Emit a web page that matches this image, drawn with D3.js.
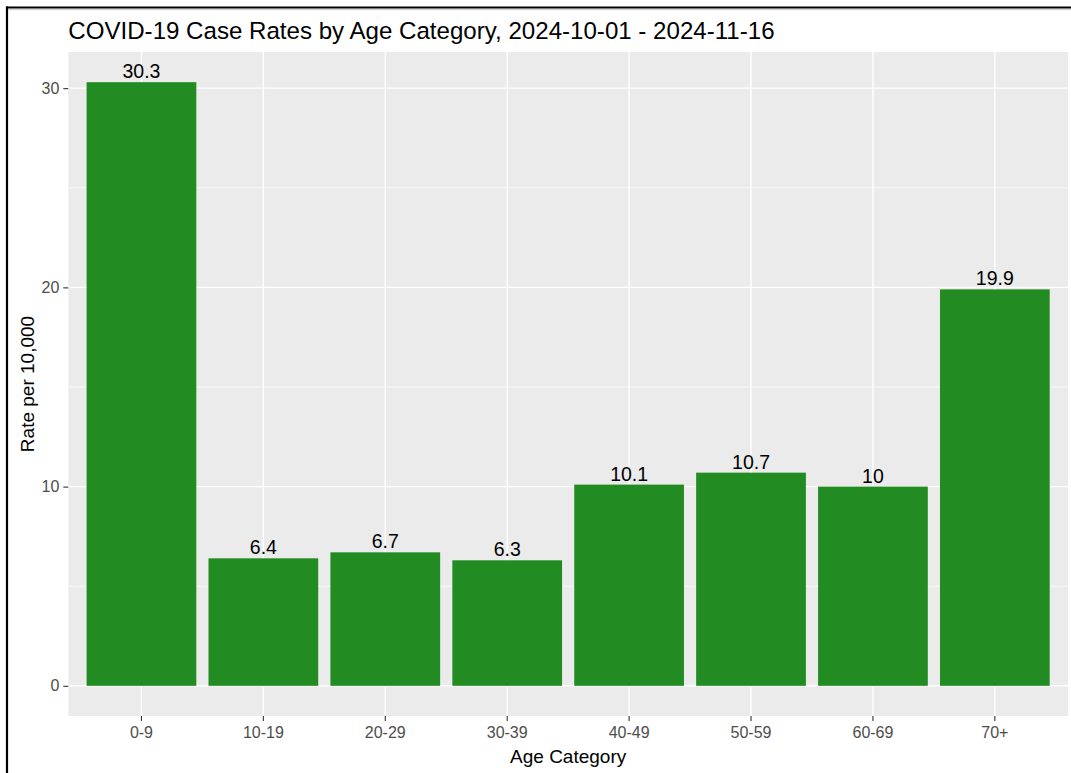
<!DOCTYPE html>
<html>
<head>
<meta charset="utf-8">
<script src="https://cdn.jsdelivr.net/npm/d3@7"></script>
<style>
  html, body { margin: 0; padding: 0; background: #fff; }
  svg { display: block; }
  text { font-family: "Liberation Sans", Arial, sans-serif; }
</style>
</head>
<body>
<svg id="chart" width="1071" height="773"></svg>
<script>
const categories = ["0-9", "10-19", "20-29", "30-39", "40-49", "50-59", "60-69", "70+"];
const rates = [30.3, 6.4, 6.7, 6.3, 10.1, 10.7, 10, 19.9];
const rateLabels = ["30.3", "6.4", "6.7", "6.3", "10.1", "10.7", "10", "19.9"];
const yTicks = [0, 10, 20, 30];
const yMinor = [5, 15, 25];
const titleText = "COVID-19 Case Rates by Age Category, 2024-10-01 - 2024-11-16";
const xTitle = "Age Category";
const yTitle = "Rate per 10,000";

const svg = d3.select("#chart");
const W = 1071, H = 773;
const panel = { left: 68.3, right: 1068, top: 52, bottom: 716 };

svg.append("rect").attr("x", 0).attr("y", 0).attr("width", W).attr("height", H).attr("fill", "#fff");

const maxV = d3.max(rates);
const y = d3.scaleLinear()
  .domain([-0.05 * maxV, maxV * 1.05])
  .range([panel.bottom, panel.top]);

const n = categories.length;
const step = (panel.right - panel.left) / (n - 1 + 1.2);
const x = d3.scaleBand()
  .domain(categories)
  .range([panel.left + 0.1 * step, panel.right - 0.1 * step])
  .paddingInner(0.1)
  .paddingOuter(0.05);

svg.append("rect")
  .attr("x", panel.left).attr("y", panel.top)
  .attr("width", panel.right - panel.left).attr("height", panel.bottom - panel.top)
  .attr("fill", "#EBEBEB");

svg.append("g").selectAll("line").data(yMinor).join("line")
  .attr("x1", panel.left).attr("x2", panel.right)
  .attr("y1", d => y(d)).attr("y2", d => y(d))
  .attr("stroke", "#fff").attr("stroke-width", 0.7);

svg.append("g").selectAll("line").data(yTicks).join("line")
  .attr("x1", panel.left).attr("x2", panel.right)
  .attr("y1", d => y(d)).attr("y2", d => y(d))
  .attr("stroke", "#fff").attr("stroke-width", 1.4);
svg.append("g").selectAll("line").data(categories).join("line")
  .attr("x1", d => x(d) + x.bandwidth() / 2).attr("x2", d => x(d) + x.bandwidth() / 2)
  .attr("y1", panel.top).attr("y2", panel.bottom)
  .attr("stroke", "#fff").attr("stroke-width", 1.4);

svg.append("g").selectAll("rect").data(rates).join("rect")
  .attr("x", (d, i) => x(categories[i]))
  .attr("width", x.bandwidth())
  .attr("y", d => y(d))
  .attr("height", d => y(0) - y(d))
  .attr("fill", "#228B22");

svg.append("g").selectAll("text").data(rates).join("text")
  .attr("x", (d, i) => x(categories[i]) + x.bandwidth() / 2)
  .attr("y", d => y(d) - 4)
  .attr("text-anchor", "middle")
  .attr("font-size", 19.5)
  .attr("fill", "#000")
  .text((d, i) => rateLabels[i]);

const yAxis = d3.axisLeft(y).tickValues(yTicks).tickSize(5).tickPadding(4).tickFormat(d3.format("d"));
const gy = svg.append("g").attr("transform", `translate(${panel.left},0)`).call(yAxis);
gy.select(".domain").remove();
gy.selectAll(".tick line").attr("stroke", "#333").attr("stroke-width", 1.1);
gy.selectAll(".tick text").attr("fill", "#4D4D4D").attr("font-size", 16)
  .attr("font-family", "Liberation Sans, Arial, sans-serif");

const xAxis = d3.axisBottom(x).tickSize(5).tickPadding(6);
const gx = svg.append("g").attr("transform", `translate(0,${panel.bottom})`).call(xAxis);
gx.select(".domain").remove();
gx.selectAll(".tick line").attr("stroke", "#333").attr("stroke-width", 1.1);
gx.selectAll(".tick text").attr("fill", "#4D4D4D").attr("font-size", 16)
  .attr("font-family", "Liberation Sans, Arial, sans-serif");

svg.append("text")
  .attr("x", panel.left).attr("y", 38.5)
  .attr("font-size", 24.1).attr("fill", "#000")
  .text(titleText);

svg.append("text")
  .attr("x", (panel.left + panel.right) / 2).attr("y", 763)
  .attr("text-anchor", "middle")
  .attr("font-size", 19).attr("fill", "#000")
  .text(xTitle);

svg.append("text")
  .attr("transform", `translate(34,${(panel.top + panel.bottom) / 2}) rotate(-90)`)
  .attr("text-anchor", "middle")
  .attr("font-size", 19).attr("fill", "#000")
  .text(yTitle);

svg.append("line").attr("x1", 6).attr("x2", W).attr("y1", 7.5).attr("y2", 7.5)
  .attr("stroke", "#000").attr("stroke-width", 2.2);
svg.append("line").attr("x1", 7).attr("x2", 7).attr("y1", 6.5).attr("y2", H)
  .attr("stroke", "#000").attr("stroke-width", 2.2);
svg.append("line").attr("x1", 8).attr("x2", W).attr("y1", 9.6).attr("y2", 9.6)
  .attr("stroke", "#ccc").attr("stroke-width", 1);
</script>
</body>
</html>
